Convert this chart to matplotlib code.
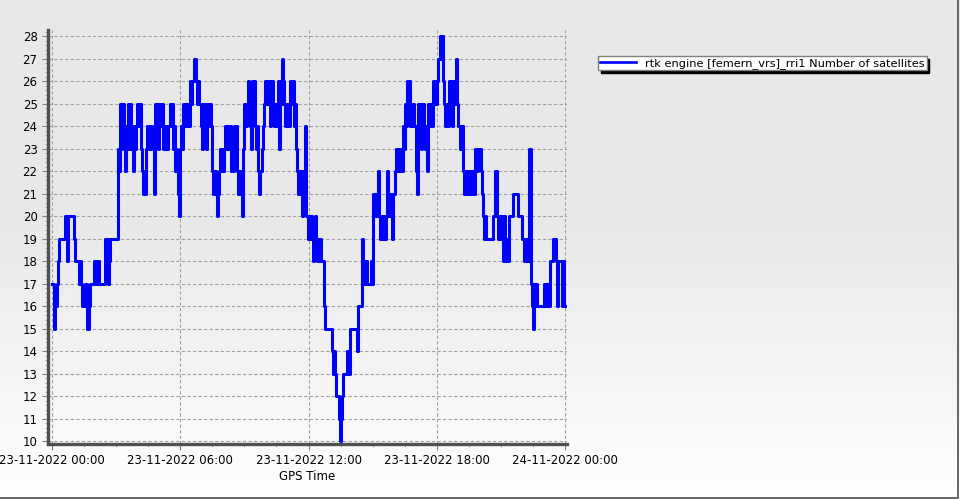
import numpy as np
import pandas as pd
import matplotlib
matplotlib.use("Agg")
import matplotlib.pyplot as plt
import matplotlib.dates as mdates
import matplotlib.ticker as mticker
from matplotlib.lines import Line2D

# number of satellites, one value every 3 minutes (20 per hour)
# from 23-11-2022 00:00 to 24-11-2022 00:00
sats_h00_05 = [
    17, 17, 15, 16, 16, 17, 18, 19, 19, 19, 19, 19, 20, 20, 18, 20, 20, 20, 20, 20,
    20, 19, 18, 18, 18, 17, 18, 17, 16, 16, 16, 17, 17, 15, 15, 16, 17, 17, 17, 18,
    18, 17, 17, 18, 17, 17, 17, 17, 17, 17, 19, 19, 17, 18, 19, 19, 19, 19, 19, 19,
    19, 19, 23, 22, 25, 23, 25, 24, 22, 23, 24, 25, 23, 25, 24, 23, 22, 24, 23, 24,
    25, 24, 25, 23, 22, 21, 22, 21, 23, 24, 23, 24, 23, 24, 23, 21, 25, 24, 25, 23,
    24, 25, 24, 25, 23, 24, 23, 24, 23, 24, 25, 24, 25, 23, 24, 22, 23, 22, 21, 20,
]
sats_h06_11 = [
    23, 24, 23, 25, 24, 25, 24, 25, 24, 26, 25, 26, 26, 27, 27, 26, 25, 26, 25, 24,
    23, 25, 24, 25, 23, 24, 25, 24, 25, 24, 22, 21, 22, 21, 20, 21, 22, 23, 22, 23,
    22, 23, 24, 23, 24, 23, 24, 22, 23, 22, 24, 23, 24, 22, 21, 22, 21, 22, 20, 23,
    25, 24, 25, 26, 25, 24, 23, 26, 25, 26, 24, 23, 24, 22, 21, 22, 23, 24, 25, 26,
    25, 26, 25, 26, 24, 25, 26, 25, 24, 25, 24, 26, 23, 26, 25, 27, 26, 25, 24, 25,
    24, 25, 24, 26, 25, 26, 24, 25, 23, 22, 21, 22, 21, 22, 20, 21, 22, 24, 20, 19,
]
sats_h12_17 = [
    20, 19, 20, 19, 18, 19, 20, 19, 18, 19, 18, 19, 18, 18, 16, 15, 15, 15, 15, 15,
    15, 15, 14, 13, 14, 13, 12, 12, 11, 10, 11, 12, 13, 13, 13, 13, 14, 14, 13, 15,
    15, 15, 15, 15, 15, 14, 16, 16, 16, 16, 19, 17, 18, 17, 18, 17, 17, 17, 18, 17,
    21, 20, 21, 20, 21, 22, 20, 19, 20, 19, 20, 19, 20, 22, 21, 20, 21, 20, 19, 21,
    21, 22, 23, 22, 23, 22, 23, 22, 24, 23, 25, 24, 26, 25, 26, 24, 25, 24, 25, 24,
    22, 21, 25, 24, 25, 23, 24, 25, 24, 23, 24, 22, 25, 24, 25, 24, 26, 25, 26, 25,
]
sats_h18_24 = [
    26, 27, 27, 28, 27, 28, 26, 25, 24, 25, 24, 26, 25, 26, 24, 25, 26, 25, 27, 25,
    24, 24, 23, 24, 22, 21, 22, 21, 22, 21, 22, 21, 22, 21, 22, 21, 23, 22, 23, 23,
    23, 22, 21, 20, 19, 20, 19, 19, 19, 19, 19, 19, 20, 20, 22, 22, 20, 19, 20, 19,
    20, 19, 18, 20, 18, 19, 18, 20, 20, 20, 20, 21, 21, 21, 21, 21, 20, 20, 20, 20,
    19, 18, 19, 18, 19, 18, 23, 23, 17, 16, 15, 17, 16, 17, 16, 16, 16, 16, 16, 16,
    17, 16, 17, 16, 17, 16, 18, 18, 18, 19, 19, 18, 16, 18, 18, 18, 18, 16, 18, 16,
    16,
]
satellites = sats_h00_05 + sats_h06_11 + sats_h12_17 + sats_h18_24
gps_time = pd.date_range("2022-11-23 00:00", periods=len(satellites), freq="3min")

serie_label = "rtk engine [femern_vrs]_rri1 Number of satellites"

fig = plt.figure(figsize=(9.6, 5.0), dpi=100)

# grey -> white background gradient
bg = fig.add_axes([0, 0, 1, 1], zorder=-10)
rows = np.linspace(0, 1, 500)
grad = np.where(rows < 0.45, 0.91, 0.91 + (rows - 0.45) / 0.55 * 0.085).reshape(-1, 1)
bg.imshow(grad, aspect="auto", cmap="gray", vmin=0, vmax=1, extent=[0, 1, 0, 1], origin="upper")
bg.axis("off")
# frame only on right and bottom
fig.lines.append(Line2D([0, 0.998, 0.998], [0.005, 0.005, 1], transform=fig.transFigure,
                        color="#5a5a5a", linewidth=1.3))

ax = fig.add_axes([48 / 960, 56 / 500, 519 / 960, 414 / 500])
ax.set_facecolor("none")

ax.step(gps_time, satellites, where="post", color="#0000ff", linewidth=2.2, label=serie_label)

ax.set_ylim(9.87, 28.27)
ax.set_xlim(pd.Timestamp("2022-11-23 00:00") - pd.Timedelta(minutes=11),
            pd.Timestamp("2022-11-24 00:00") + pd.Timedelta(minutes=5))

ax.yaxis.set_major_locator(mticker.MultipleLocator(1))
ax.yaxis.set_minor_locator(mticker.MultipleLocator(0.2))
ax.xaxis.set_major_locator(mdates.HourLocator(byhour=[0, 6, 12, 18]))
minor_x = pd.date_range("2022-11-23 00:00", "2022-11-24 00:00", freq="90min")
ax.xaxis.set_minor_locator(mticker.FixedLocator(mdates.date2num(minor_x)))
ax.xaxis.set_major_formatter(mdates.DateFormatter("%d-%m-%Y %H:%M"))

ax.grid(True, which="major", linestyle=(0, (3, 2)), color="#a0a0a0", linewidth=0.8)
ax.tick_params(axis="both", which="major", labelsize=8.5, length=4, color="#808080")
ax.tick_params(axis="both", which="minor", length=2.5, color="#a0a0a0")
ax.set_xlabel("GPS Time", fontsize=8.5, labelpad=2)

for side in ["top", "right"]:
    ax.spines[side].set_visible(False)
for side in ["left", "bottom"]:
    ax.spines[side].set_linewidth(2.4)
    ax.spines[side].set_color("#505050")

leg = ax.legend(loc="upper left", bbox_to_anchor=(598 / 960, 1 - 56 / 500),
                bbox_transform=fig.transFigure, fontsize=8.2, fancybox=False,
                shadow={"color": "black", "alpha": 1.0}, framealpha=1, edgecolor="#808080",
                borderpad=0.15, handlelength=3.2, handletextpad=0.8, borderaxespad=0)
leg.get_lines()[0].set_linewidth(1.9)

plt.savefig("out.png", dpi=100)
